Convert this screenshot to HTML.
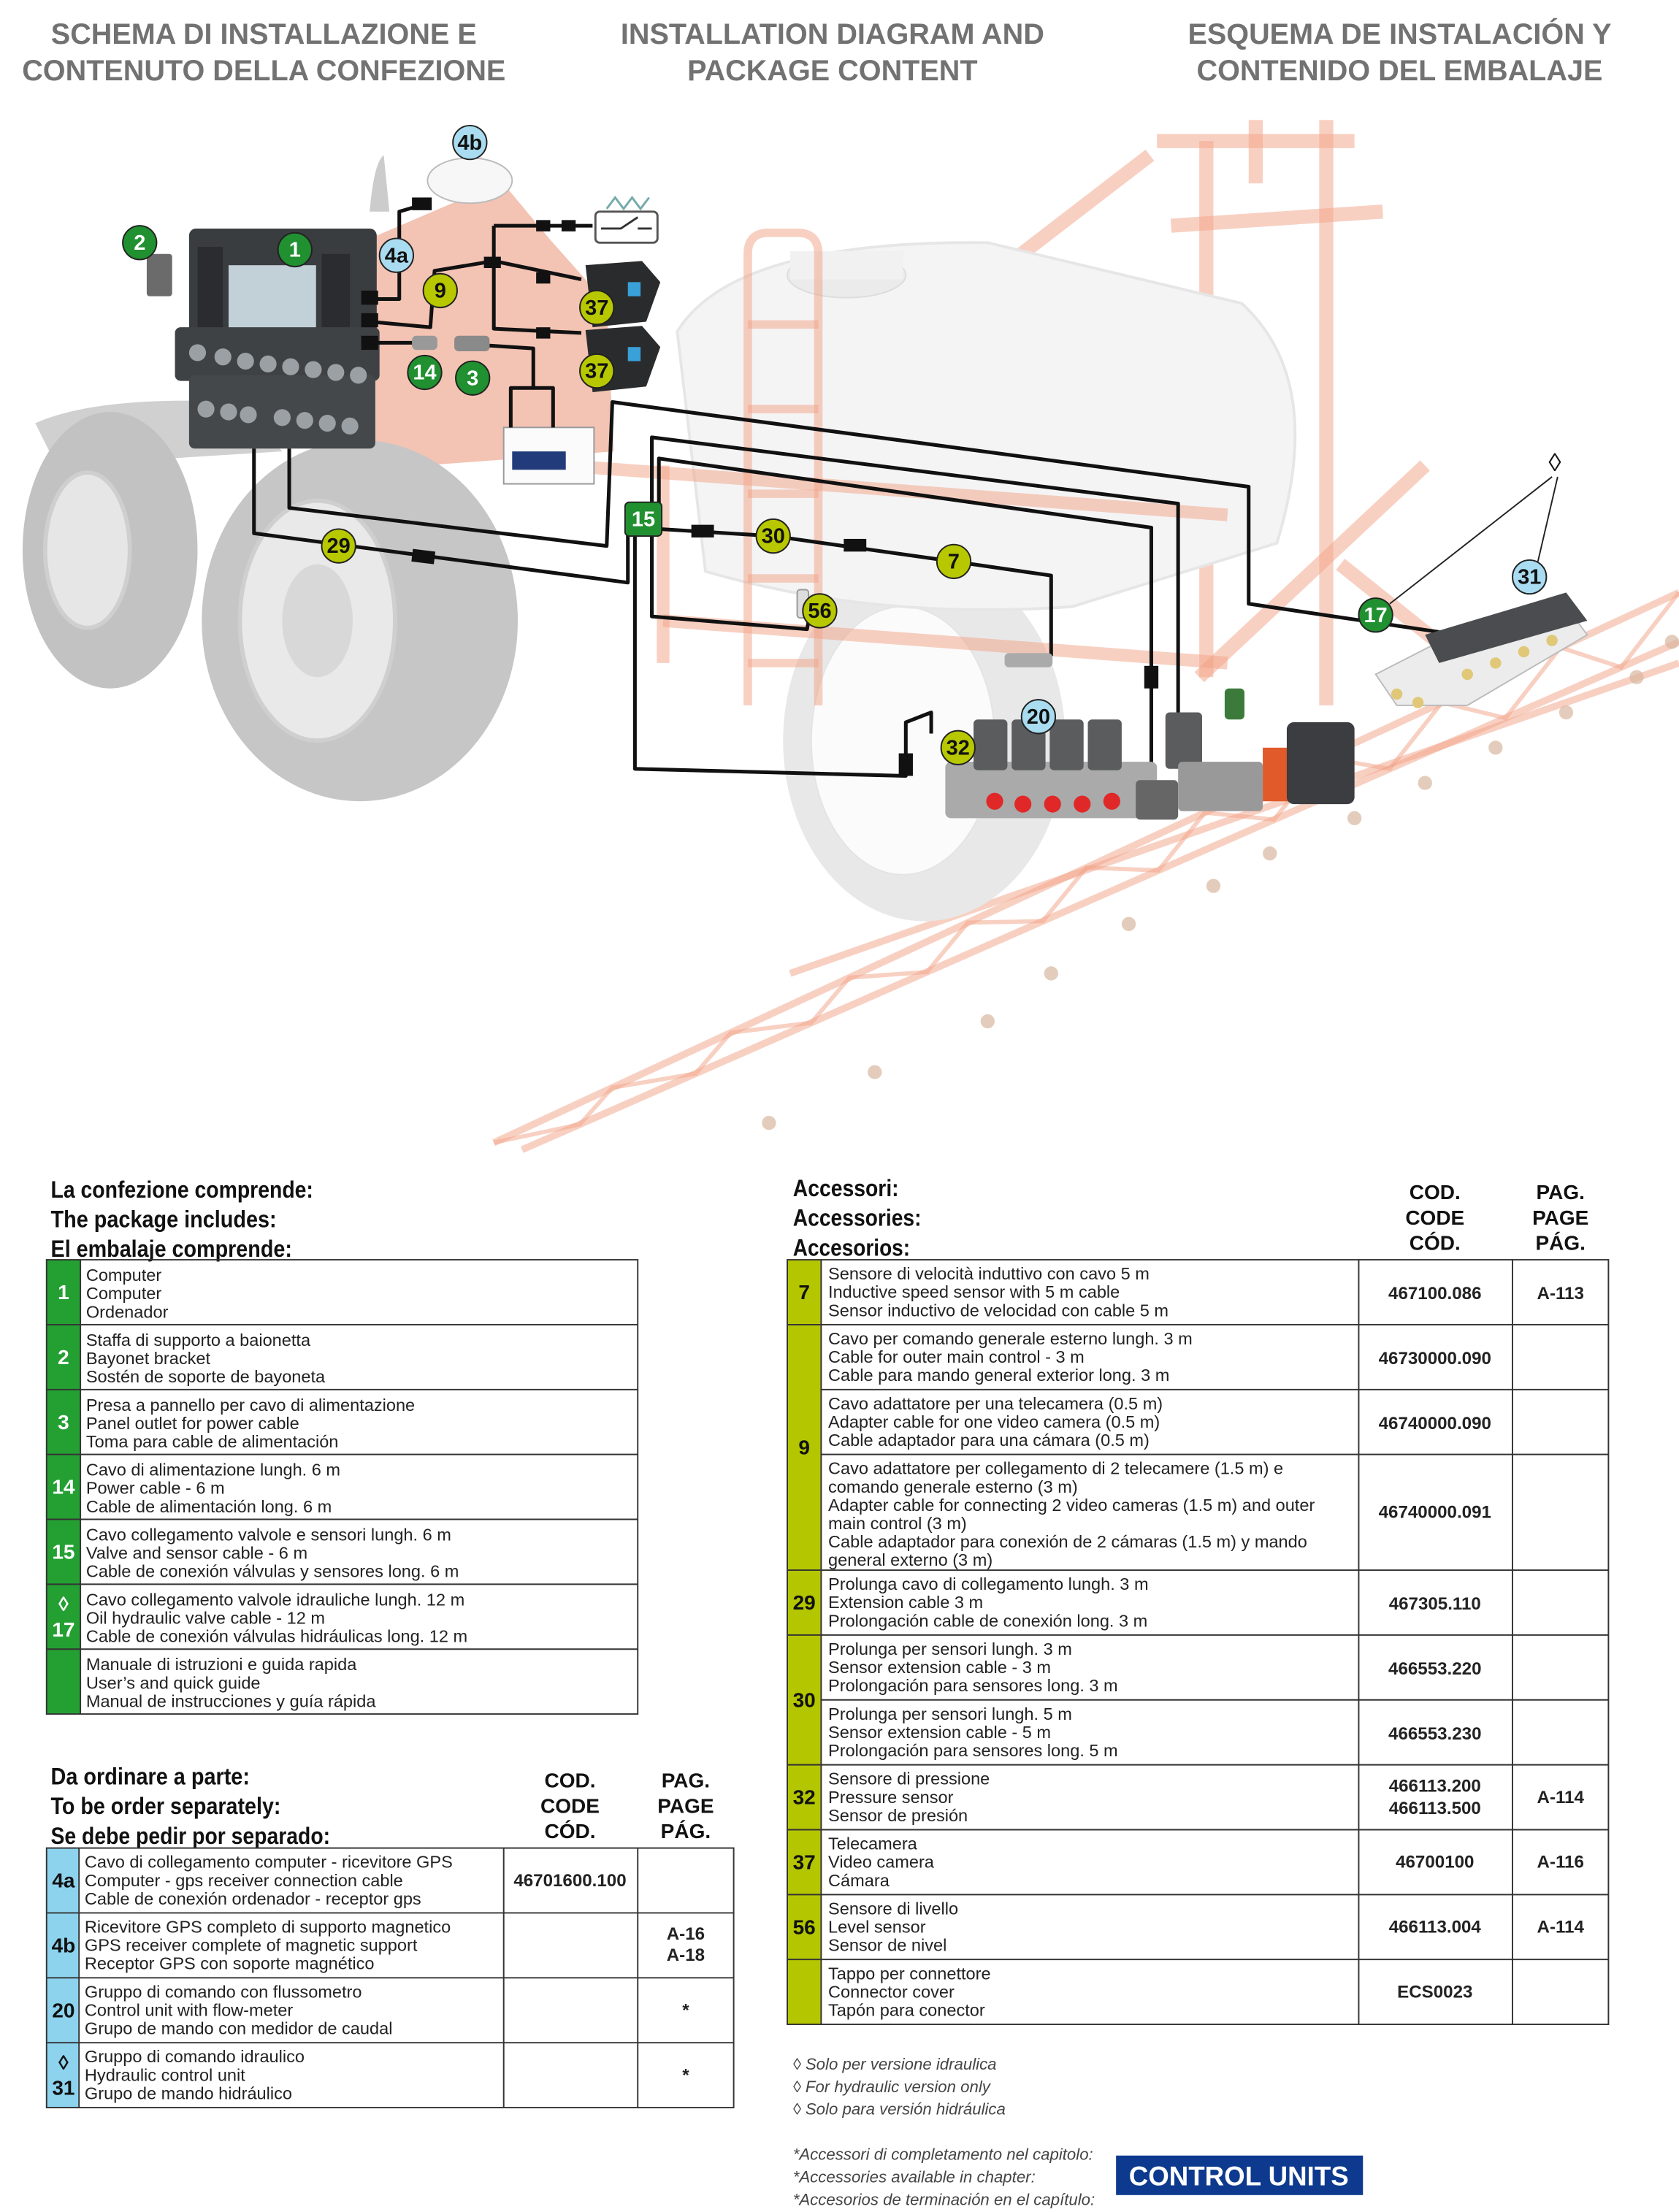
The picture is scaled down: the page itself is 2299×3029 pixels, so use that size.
<!DOCTYPE html>
<html><head><meta charset="utf-8">
<style>
html,body{margin:0;padding:0;background:#fff;}
svg{display:block;}
text{font-family:"Liberation Sans",sans-serif;}
.t{font-size:20.5px;font-weight:bold;fill:#727272;text-anchor:middle;}
.h{font-size:17px;font-weight:bold;fill:#111;}
.hc{font-size:14.5px;font-weight:bold;fill:#111;text-anchor:middle;}
.b{font-size:12.2px;fill:#222;}
.n{font-size:14.5px;font-weight:bold;text-anchor:middle;}
.c{font-size:12.5px;font-weight:bold;fill:#222;text-anchor:middle;}
.f{font-size:11.5px;font-style:italic;fill:#444;}
.lb{font-size:15px;font-weight:bold;text-anchor:middle;fill:#111;}
.cb{fill:none;stroke:#111;stroke-width:2.6;stroke-linejoin:round;}
.fr{fill:none;stroke:#f2a185;stroke-opacity:.5;}
</style></head><body>
<svg width="2299" height="3029" viewBox="0 0 1190 1568" preserveAspectRatio="none" xmlns="http://www.w3.org/2000/svg">
<rect width="1190" height="1568" fill="#fff"/>
<!-- titles -->
<text class="t" x="187" y="31">SCHEMA DI INSTALLAZIONE E</text>
<text class="t" x="187" y="57">CONTENUTO DELLA CONFEZIONE</text>
<text class="t" x="590" y="31">INSTALLATION DIAGRAM AND</text>
<text class="t" x="590" y="57">PACKAGE CONTENT</text>
<text class="t" x="992" y="31">ESQUEMA DE INSTALACIÓN Y</text>
<text class="t" x="992" y="57">CONTENIDO DEL EMBALAJE</text>

<!-- ===== DIAGRAM ===== -->
<!-- boom -->
<g class="fr" stroke-width="5">
<line x1="350" y1="810" x2="1190" y2="420"/>
<line x1="370" y1="815" x2="1190" y2="455"/>
<line x1="560" y1="690" x2="1190" y2="470"/>
<polyline stroke-width="3" points="350,810 411,797 434,771 493,761 518,732 575,725 602,693 657,689 686,654 739,653 770,615 821,617 854,576 903,581 938,537 985,545 1022,498 1067,509 1106,459 1149,473 1190,420"/>
</g>
<g fill="#d9b7a0" opacity=".7">
<circle cx="545" cy="796" r="5"/><circle cx="620" cy="760" r="5"/><circle cx="700" cy="724" r="5"/><circle cx="745" cy="690" r="5"/><circle cx="800" cy="655" r="5"/><circle cx="860" cy="628" r="5"/><circle cx="900" cy="605" r="5"/><circle cx="960" cy="580" r="5"/><circle cx="1010" cy="555" r="5"/><circle cx="1060" cy="530" r="5"/><circle cx="1110" cy="505" r="5"/><circle cx="1160" cy="480" r="5"/><circle cx="1185" cy="455" r="5"/>
</g>
<!-- mast -->
<g class="fr" stroke-width="10">
<line x1="855" y1="100" x2="855" y2="480"/>
<line x1="940" y1="85" x2="940" y2="500"/>
<line x1="620" y1="260" x2="815" y2="110"/>
<line x1="740" y1="330" x2="860" y2="250"/>
<line x1="820" y1="100" x2="960" y2="100"/>
<line x1="830" y1="160" x2="980" y2="150"/>
<line x1="890" y1="85" x2="890" y2="130"/>
<line x1="850" y1="480" x2="1010" y2="330"/>
<line x1="950" y1="400" x2="1050" y2="480"/>
</g>
<!-- sprayer wheel -->
<ellipse cx="655" cy="525" rx="100" ry="128" fill="#e8e8e8"/>
<ellipse cx="640" cy="525" rx="65" ry="95" fill="#fbfbfb" stroke="#e4e4e4"/>
<!-- tank -->
<path d="M480,235 Q520,170 700,172 L880,215 Q940,270 905,385 L760,430 Q620,440 500,405 Z" fill="#f4f4f4" stroke="#e6e6e6" stroke-width="2"/>
<ellipse cx="600" cy="195" rx="42" ry="16" fill="#ebebeb" stroke="#ddd"/>
<rect x="560" y="178" width="80" height="20" fill="#f1f1f1"/>
<!-- ladder -->
<g class="fr" stroke-width="6">
<path d="M530,500 L530,180 Q530,165 545,165 L565,165 Q580,165 580,180 L580,500"/>
<line x1="530" y1="230" x2="580" y2="230"/><line x1="530" y1="290" x2="580" y2="290"/>
<line x1="530" y1="350" x2="580" y2="350"/><line x1="530" y1="410" x2="580" y2="410"/><line x1="530" y1="470" x2="580" y2="470"/>
</g>
<!-- chassis -->
<g class="fr" stroke-width="9">
<line x1="400" y1="330" x2="870" y2="365"/>
<line x1="470" y1="440" x2="870" y2="470"/>
<line x1="470" y1="330" x2="470" y2="470"/>
</g>
<!-- tractor -->
<path d="M150,200 Q180,165 260,170 L330,140 Q345,120 340,110 L390,170 L430,215 L435,320 L300,330 L160,300 Z" fill="#f0b4a0" opacity=".8"/>
<path d="M262,150 Q265,115 272,110 L276,150 Z" fill="#ccc"/>
<path d="M25,300 Q70,280 170,285 L200,320 L40,330 Z" fill="#d0d0d0"/>
<ellipse cx="78" cy="390" rx="62" ry="98" fill="#c2c2c2"/>
<ellipse cx="62" cy="390" rx="30" ry="55" fill="#e6e6e6" stroke="#cfcfcf" stroke-width="3"/>
<ellipse cx="255" cy="440" rx="112" ry="128" fill="#c6c6c6"/>
<ellipse cx="225" cy="440" rx="55" ry="85" fill="#e9e9e9" stroke="#cfcfcf" stroke-width="3"/>
<ellipse cx="225" cy="440" rx="25" ry="40" fill="#d8d8d8"/>
<!-- bracket 2 -->
<rect x="104" y="180" width="18" height="30" rx="2" fill="#6b6b6b"/>
<!-- console -->
<rect x="134" y="162" width="133" height="92" rx="5" fill="#3a3d40"/>
<rect x="162" y="188" width="62" height="55" fill="#c2d0d8"/>
<rect x="140" y="175" width="18" height="62" fill="#2b2c2e"/><rect x="228" y="180" width="20" height="60" fill="#2b2c2e"/>
<rect x="124" y="232" width="145" height="38" rx="4" fill="#3f4245"/>
<rect x="134" y="266" width="132" height="52" rx="4" fill="#45484b"/>
<g fill="#9aa0a4"><circle cx="140" cy="250" r="6"/><circle cx="158" cy="253" r="6"/><circle cx="174" cy="256" r="6"/><circle cx="190" cy="258" r="6"/><circle cx="206" cy="260" r="6"/><circle cx="222" cy="262" r="6"/><circle cx="238" cy="264" r="6"/><circle cx="254" cy="266" r="6"/>
<circle cx="146" cy="290" r="6"/><circle cx="162" cy="292" r="6"/><circle cx="176" cy="294" r="6"/><circle cx="200" cy="296" r="6"/><circle cx="216" cy="298" r="6"/><circle cx="232" cy="300" r="6"/><circle cx="248" cy="302" r="6"/></g>
<!-- GPS dish -->
<ellipse cx="333" cy="128" rx="30" ry="16" fill="#f7f7f7" stroke="#bbb"/>
<!-- switch icon -->
<rect x="422" y="150" width="44" height="22" rx="3" fill="#fff" stroke="#555" stroke-width="1.5"/>
<path d="M426,162 L440,162 L452,154 M452,162 L462,162" fill="none" stroke="#333" stroke-width="1.5"/>
<path d="M430,148 L436,140 L442,148 L448,140 L454,148 L460,140" fill="none" stroke="#7aa" stroke-width="1.5"/>
<!-- cameras -->
<path d="M415,188 L455,185 L468,200 L458,228 L420,232 Z" fill="#2a2b2d"/>
<rect x="445" y="200" width="9" height="10" fill="#3aa0d8"/>
<path d="M415,234 L455,231 L468,246 L458,274 L420,278 Z" fill="#2a2b2d"/>
<rect x="445" y="246" width="9" height="10" fill="#3aa0d8"/>
<!-- battery -->
<rect x="357" y="303" width="64" height="40" fill="#fbfbfb" stroke="#999"/>
<rect x="363" y="320" width="38" height="13" fill="#223b7a"/>
<!-- connectors 14 3 -->
<rect x="292" y="238" width="18" height="10" rx="3" fill="#999"/>
<rect x="322" y="238" width="25" height="11" rx="3" fill="#8a8a8a"/>
<!-- cables top -->
<path class="cb" d="M262,212 L283,212 L283,150 L300,145"/>
<rect x="292" y="140" width="14" height="9" fill="#111"/>
<path class="cb" d="M262,228 L305,232 L308,192 L350,185 L412,198"/>
<path class="cb" d="M350,160 L350,233 L412,236"/>
<path class="cb" d="M350,160 L420,160"/>
<rect x="343" y="182" width="12" height="8" fill="#111"/><rect x="380" y="193" width="10" height="8" fill="#111"/><rect x="380" y="232" width="10" height="8" fill="#111"/><rect x="380" y="156" width="10" height="8" fill="#111"/><rect x="398" y="156" width="10" height="8" fill="#111"/>
<rect x="256" y="206" width="12" height="10" fill="#111"/><rect x="256" y="222" width="12" height="10" fill="#111"/><rect x="256" y="238" width="12" height="10" fill="#111"/>
<path class="cb" d="M262,243 L292,243"/>
<path class="cb" d="M347,245 L378,247 L378,275 L362,275 L362,303"/>
<path class="cb" d="M378,275 L392,275 L392,303"/>
<!-- main cables -->
<path class="cb" d="M180,318 L180,378 L445,413 L445,378"/>
<rect x="292" y="390" width="16" height="9" fill="#111" transform="rotate(7 300 395)"/>
<path class="cb" d="M205,318 L205,360 L430,387 L434,285 L885,345 L885,428 L1020,448"/>
<path class="cb" d="M462,360 L462,310 L835,357 L835,505"/>
<path class="cb" d="M467,360 L467,325 L816,374 L816,551"/>
<rect x="811" y="472" width="10" height="16" fill="#111"/>
<path class="cb" d="M467,375 L548,380 L676,398 L745,408 L745,465"/>
<rect x="490" y="372" width="16" height="9" fill="#111"/><rect x="598" y="382" width="16" height="9" fill="#111"/>
<path class="cb" d="M462,375 L462,437 L572,446 L575,430"/>
<path class="cb" d="M450,375 L450,545 L642,550 L642,512 L660,505 L660,520"/>
<rect x="637" y="534" width="10" height="16" fill="#111"/>
<!-- speed sensor -->
<rect x="712" y="463" width="34" height="10" rx="3" fill="#aaa"/>
<!-- level sensor -->
<rect x="565" y="418" width="8" height="20" rx="2" fill="#ddd" stroke="#999"/>
<!-- control unit 20 -->
<rect x="670" y="540" width="150" height="40" rx="4" fill="#aaa"/>
<g fill="#5a5c5e"><rect x="690" y="510" width="24" height="36" rx="3"/><rect x="717" y="510" width="24" height="36" rx="3"/><rect x="744" y="510" width="24" height="36" rx="3"/><rect x="771" y="510" width="24" height="36" rx="3"/><rect x="826" y="505" width="26" height="40" rx="3"/></g>
<g fill="#e02828"><circle cx="705" cy="568" r="6"/><circle cx="725" cy="570" r="6"/><circle cx="746" cy="570" r="6"/><circle cx="767" cy="570" r="6"/><circle cx="788" cy="568" r="6"/></g>
<rect x="805" y="553" width="30" height="28" rx="3" fill="#666"/>
<rect x="835" y="540" width="60" height="35" rx="3" fill="#999"/>
<rect x="868" y="488" width="14" height="22" rx="3" fill="#3b7a3b"/>
<rect x="895" y="530" width="20" height="38" fill="#e05a2a"/>
<rect x="912" y="512" width="48" height="58" rx="5" fill="#3b3d40"/>
<!-- hydraulic unit 31 -->
<path d="M975,478 L1020,455 L1110,430 L1125,450 L1040,500 L990,500 Z" fill="#ececec" stroke="#bbb"/>
<path d="M1010,450 L1110,420 L1125,440 L1020,470 Z" fill="#4a4c4f"/>
<g fill="#e0c878"><circle cx="990" cy="492" r="4"/><circle cx="1005" cy="498" r="4"/><circle cx="1040" cy="478" r="4"/><circle cx="1060" cy="470" r="4"/><circle cx="1080" cy="462" r="4"/><circle cx="1100" cy="454" r="4"/></g>
<!-- diamond leader -->
<text x="1102" y="334" font-size="18" text-anchor="middle" fill="#111">◊</text>
<path d="M1100,338 L985,428 M1104,338 L1090,398" stroke="#222" stroke-width="1" fill="none"/>

<!-- labels -->
<g stroke="#222" stroke-width="1">
<circle cx="99" cy="172" r="12" fill="#209030"/>
<circle cx="209" cy="177" r="12" fill="#209030"/>
<circle cx="281" cy="181" r="12" fill="#a9dcf0"/>
<circle cx="333" cy="101" r="12" fill="#a9dcf0"/>
<circle cx="312" cy="206" r="12" fill="#b8c800"/>
<circle cx="301" cy="264" r="12" fill="#209030"/>
<circle cx="335" cy="268" r="12" fill="#209030"/>
<circle cx="423" cy="218" r="12" fill="#b8c800"/>
<circle cx="423" cy="263" r="12" fill="#b8c800"/>
<circle cx="240" cy="387" r="12" fill="#b8c800"/>
<circle cx="548" cy="380" r="12" fill="#b8c800"/>
<circle cx="676" cy="398" r="12" fill="#b8c800"/>
<circle cx="581" cy="433" r="12" fill="#b8c800"/>
<circle cx="975" cy="436" r="12" fill="#209030"/>
<circle cx="1084" cy="409" r="12" fill="#a9dcf0"/>
<circle cx="736" cy="508" r="12" fill="#a9dcf0"/>
<circle cx="679" cy="530" r="12" fill="#b8c800"/>
<rect x="443" y="356" width="26" height="24" rx="3" fill="#209030"/>
</g>
<g class="lb">
<text x="99" y="177" fill="#fff">2</text><text x="209" y="182" fill="#fff">1</text>
<text x="281" y="186">4a</text><text x="333" y="106">4b</text><text x="312" y="211">9</text>
<text x="301" y="269" fill="#fff">14</text><text x="335" y="273" fill="#fff">3</text>
<text x="423" y="223">37</text><text x="423" y="268">37</text><text x="240" y="392">29</text>
<text x="548" y="385">30</text><text x="676" y="403">7</text><text x="581" y="438">56</text>
<text x="975" y="441" fill="#fff">17</text><text x="1084" y="414">31</text><text x="736" y="513">20</text>
<text x="679" y="535">32</text><text x="456" y="373" fill="#fff">15</text>
</g>

<!-- ===== LEFT TABLE ===== -->
<text class="h" x="36" y="849" textLength="186" lengthAdjust="spacingAndGlyphs">La confezione comprende:</text>
<text class="h" x="36" y="870" textLength="160" lengthAdjust="spacingAndGlyphs">The package includes:</text>
<text class="h" x="36" y="891" textLength="171" lengthAdjust="spacingAndGlyphs">El embalaje comprende:</text>
<rect x="33" y="893" width="24" height="322" fill="#24a033"/>
<rect x="33" y="893" width="419" height="322" fill="none" stroke="#333" stroke-width="1"/>
<g stroke="#333" stroke-width="1"><line x1="57" y1="893" x2="57" y2="1215"/>
<line x1="33" y1="939" x2="452" y2="939"/><line x1="33" y1="985" x2="452" y2="985"/><line x1="33" y1="1031" x2="452" y2="1031"/><line x1="33" y1="1077" x2="452" y2="1077"/><line x1="33" y1="1123" x2="452" y2="1123"/><line x1="33" y1="1169" x2="452" y2="1169"/></g>
<g class="n" fill="#fff"><text x="45" y="921">1</text><text x="45" y="967">2</text><text x="45" y="1013">3</text><text x="45" y="1059">14</text><text x="45" y="1105">15</text><text x="45" y="1142">◊</text><text x="45" y="1160">17</text></g>
<g class="b">
<text x="61" y="908">Computer</text><text x="61" y="921">Computer</text><text x="61" y="934">Ordenador</text>
<text x="61" y="954">Staffa di supporto a baionetta</text><text x="61" y="967">Bayonet bracket</text><text x="61" y="980">Sostén de soporte de bayoneta</text>
<text x="61" y="1000">Presa a pannello per cavo di alimentazione</text><text x="61" y="1013">Panel outlet for power cable</text><text x="61" y="1026">Toma para cable de alimentación</text>
<text x="61" y="1046">Cavo di alimentazione lungh. 6 m</text><text x="61" y="1059">Power cable - 6 m</text><text x="61" y="1072">Cable de alimentación long. 6 m</text>
<text x="61" y="1092">Cavo collegamento valvole e sensori lungh. 6 m</text><text x="61" y="1105">Valve and sensor cable - 6 m</text><text x="61" y="1118">Cable de conexión válvulas y sensores long. 6 m</text>
<text x="61" y="1138">Cavo collegamento valvole idrauliche lungh. 12 m</text><text x="61" y="1151">Oil hydraulic valve cable - 12 m</text><text x="61" y="1164">Cable de conexión válvulas hidráulicas long. 12 m</text>
<text x="61" y="1184">Manuale di istruzioni e guida rapida</text><text x="61" y="1197">User’s and quick guide</text><text x="61" y="1210">Manual de instrucciones y guía rápida</text>
</g>

<!-- ===== SEPARATE ORDER TABLE ===== -->
<text class="h" x="36" y="1265" textLength="141" lengthAdjust="spacingAndGlyphs">Da ordinare a parte:</text>
<text class="h" x="36" y="1286" textLength="163" lengthAdjust="spacingAndGlyphs">To be order separately:</text>
<text class="h" x="36" y="1307" textLength="198" lengthAdjust="spacingAndGlyphs">Se debe pedir por separado:</text>
<g class="hc"><text x="404" y="1267">COD.</text><text x="404" y="1285">CODE</text><text x="404" y="1303">CÓD.</text>
<text x="486" y="1267">PAG.</text><text x="486" y="1285">PAGE</text><text x="486" y="1303">PÁG.</text></g>
<rect x="33" y="1310" width="23" height="184" fill="#8dd3ee"/>
<rect x="33" y="1310" width="487" height="184" fill="none" stroke="#333"/>
<g stroke="#333"><line x1="56" y1="1310" x2="56" y2="1494"/><line x1="357" y1="1310" x2="357" y2="1494"/><line x1="452" y1="1310" x2="452" y2="1494"/>
<line x1="33" y1="1356" x2="520" y2="1356"/><line x1="33" y1="1402" x2="520" y2="1402"/><line x1="33" y1="1448" x2="520" y2="1448"/></g>
<g class="n" fill="#111"><text x="45" y="1338">4a</text><text x="45" y="1384">4b</text><text x="45" y="1430">20</text><text x="45" y="1467">◊</text><text x="45" y="1485">31</text></g>
<g class="b">
<text x="60" y="1324">Cavo di collegamento computer - ricevitore GPS</text><text x="60" y="1337">Computer - gps receiver connection cable</text><text x="60" y="1350">Cable de conexión ordenador - receptor gps</text>
<text x="60" y="1370">Ricevitore GPS completo di supporto magnetico</text><text x="60" y="1383">GPS receiver complete of magnetic support</text><text x="60" y="1396">Receptor GPS con soporte magnético</text>
<text x="60" y="1416">Gruppo di comando con flussometro</text><text x="60" y="1429">Control unit with flow-meter</text><text x="60" y="1442">Grupo de mando con medidor de caudal</text>
<text x="60" y="1462">Gruppo di comando idraulico</text><text x="60" y="1475">Hydraulic control unit</text><text x="60" y="1488">Grupo de mando hidráulico</text>
</g>
<g class="c"><text x="404" y="1337">46701600.100</text><text x="486" y="1375">A-16</text><text x="486" y="1390">A-18</text><text x="486" y="1429">*</text><text x="486" y="1475">*</text></g>

<!-- ===== RIGHT TABLE ===== -->
<text class="h" x="562" y="848" textLength="75" lengthAdjust="spacingAndGlyphs">Accessori:</text>
<text class="h" x="562" y="869" textLength="91" lengthAdjust="spacingAndGlyphs">Accessories:</text>
<text class="h" x="562" y="890" textLength="83" lengthAdjust="spacingAndGlyphs">Accesorios:</text>
<g class="hc"><text x="1017" y="850">COD.</text><text x="1017" y="868">CODE</text><text x="1017" y="886">CÓD.</text>
<text x="1106" y="850">PAG.</text><text x="1106" y="868">PAGE</text><text x="1106" y="886">PÁG.</text></g>
<rect x="558" y="893" width="24" height="542" fill="#b4c600"/>
<rect x="558" y="893" width="582" height="542" fill="none" stroke="#333"/>
<g stroke="#333"><line x1="582" y1="893" x2="582" y2="1435"/><line x1="963" y1="893" x2="963" y2="1435"/><line x1="1072" y1="893" x2="1072" y2="1435"/>
<line x1="558" y1="939" x2="1140" y2="939"/><line x1="582" y1="985" x2="1140" y2="985"/><line x1="582" y1="1031" x2="1140" y2="1031"/><line x1="558" y1="1113" x2="1140" y2="1113"/><line x1="558" y1="1159" x2="1140" y2="1159"/><line x1="582" y1="1205" x2="1140" y2="1205"/><line x1="558" y1="1251" x2="1140" y2="1251"/><line x1="558" y1="1297" x2="1140" y2="1297"/><line x1="558" y1="1343" x2="1140" y2="1343"/><line x1="558" y1="1389" x2="1140" y2="1389"/></g>
<g class="n" fill="#111"><text x="570" y="921">7</text><text x="570" y="1031">9</text><text x="570" y="1141">29</text><text x="570" y="1210">30</text><text x="570" y="1279">32</text><text x="570" y="1325">37</text><text x="570" y="1371">56</text></g>
<g class="b">
<text x="587" y="907">Sensore di velocità induttivo con cavo 5 m</text><text x="587" y="920">Inductive speed sensor with 5 m cable</text><text x="587" y="933">Sensor inductivo de velocidad con cable 5 m</text>
<text x="587" y="953">Cavo per comando generale esterno lungh. 3 m</text><text x="587" y="966">Cable for outer main control - 3 m</text><text x="587" y="979">Cable para mando general exterior long. 3 m</text>
<text x="587" y="999">Cavo adattatore per una telecamera (0.5 m)</text><text x="587" y="1012">Adapter cable for one video camera (0.5 m)</text><text x="587" y="1025">Cable adaptador para una cámara (0.5 m)</text>
<text x="587" y="1045">Cavo adattatore per collegamento di 2 telecamere (1.5 m) e</text><text x="587" y="1058">comando generale esterno (3 m)</text><text x="587" y="1071">Adapter cable for connecting 2 video cameras (1.5 m) and outer</text><text x="587" y="1084">main control (3 m)</text><text x="587" y="1097">Cable adaptador para conexión de 2 cámaras (1.5 m) y mando</text><text x="587" y="1110">general externo (3 m)</text>
<text x="587" y="1127">Prolunga cavo di collegamento lungh. 3 m</text><text x="587" y="1140">Extension cable 3 m</text><text x="587" y="1153">Prolongación cable de conexión long. 3 m</text>
<text x="587" y="1173">Prolunga per sensori lungh. 3 m</text><text x="587" y="1186">Sensor extension cable - 3 m</text><text x="587" y="1199">Prolongación para sensores long. 3 m</text>
<text x="587" y="1219">Prolunga per sensori lungh. 5 m</text><text x="587" y="1232">Sensor extension cable - 5 m</text><text x="587" y="1245">Prolongación para sensores long. 5 m</text>
<text x="587" y="1265">Sensore di pressione</text><text x="587" y="1278">Pressure sensor</text><text x="587" y="1291">Sensor de presión</text>
<text x="587" y="1311">Telecamera</text><text x="587" y="1324">Video camera</text><text x="587" y="1337">Cámara</text>
<text x="587" y="1357">Sensore di livello</text><text x="587" y="1370">Level sensor</text><text x="587" y="1383">Sensor de nivel</text>
<text x="587" y="1403">Tappo per connettore</text><text x="587" y="1416">Connector cover</text><text x="587" y="1429">Tapón para conector</text>
</g>
<g class="c">
<text x="1017" y="921">467100.086</text><text x="1106" y="921">A-113</text>
<text x="1017" y="967">46730000.090</text><text x="1017" y="1013">46740000.090</text><text x="1017" y="1076">46740000.091</text>
<text x="1017" y="1141">467305.110</text><text x="1017" y="1187">466553.220</text><text x="1017" y="1233">466553.230</text>
<text x="1017" y="1270">466113.200</text><text x="1017" y="1286">466113.500</text><text x="1106" y="1278">A-114</text>
<text x="1017" y="1324">46700100</text><text x="1106" y="1324">A-116</text>
<text x="1017" y="1370">466113.004</text><text x="1106" y="1370">A-114</text>
<text x="1017" y="1416">ECS0023</text>
</g>
<!-- footnotes -->
<g class="f"><text x="562" y="1467">◊ Solo per versione idraulica</text><text x="562" y="1483">◊ For hydraulic version only</text><text x="562" y="1499">◊ Solo para versión hidráulica</text>
<text x="562" y="1531">*Accessori di completamento nel capitolo:</text><text x="562" y="1547">*Accessories available in chapter:</text><text x="562" y="1563">*Accesorios de terminación en el capítulo:</text></g>
<rect x="791" y="1528" width="175" height="28" fill="#0d3a8e"/>
<text x="878" y="1549" font-size="19" font-weight="bold" fill="#fff" text-anchor="middle">CONTROL UNITS</text>
</svg>
</body></html>
